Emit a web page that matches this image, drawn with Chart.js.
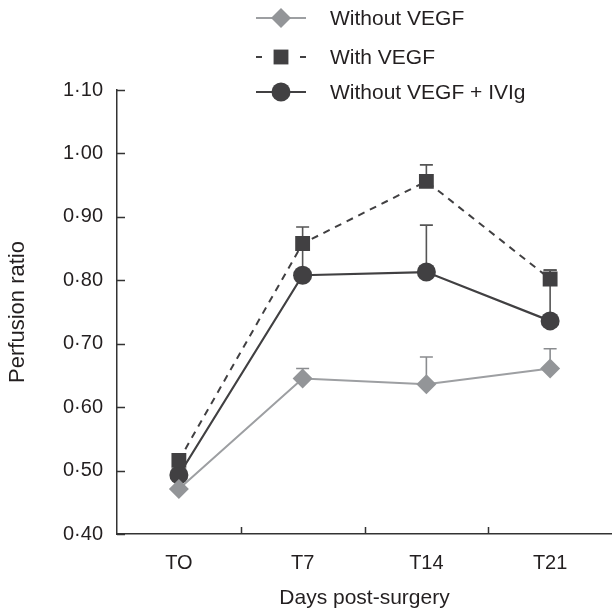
<!DOCTYPE html>
<html>
<head>
<meta charset="utf-8">
<script src="https://cdn.jsdelivr.net/npm/chart.js@4"></script>
<style>
  html, body { margin: 0; padding: 0; background: #ffffff; }
  canvas { display: block; }
</style>
</head>
<body>
<canvas id="c" width="612" height="613"></canvas>
<script>
// ---- data ----
const categories = ['TO', 'T7', 'T14', 'T21'];
const seriesNames = ['Without VEGF', 'With VEGF', 'Without VEGF + IVIg'];
const withoutVEGF = [0.471, 0.645, 0.636, 0.661];
const withoutVEGFErr = [0, 0.016, 0.043, 0.031];
const withVEGF = [0.516, 0.858, 0.956, 0.802];
const withVEGFErr = [0, 0.026, 0.026, 0.014];
const withoutVEGFIVIg = [0.493, 0.808, 0.813, 0.736];
const withoutVEGFIVIgErr = [0, 0.055, 0.074, 0.08];
const yTickValues = [0.40, 0.50, 0.60, 0.70, 0.80, 0.90, 1.00, 1.10];
const yTickLabels = ['0·40', '0·50', '0·60', '0·70', '0·80', '0·90', '1·00', '1·10'];
const xTitle = 'Days post-surgery';
const yTitle = 'Perfusion ratio';

// ---- styles ----
const FONT = "'Liberation Sans', Arial, Helvetica, sans-serif";
const TEXT = '#231f20';
const AXIS = '#333333';
const DARK = '#414042';
const GRAY_FILL = '#939598';
const GRAY_LINE = '#9d9fa2';
const errorSets = [withoutVEGFErr, withVEGFErr, withoutVEGFIVIgErr];
const errorColors = ['#8a8c8f', '#555555', '#555555'];

// stretch the plot area so the x axis runs to the right edge, as in the original
const areaPlugin = {
  id: 'areaFix',
  afterLayout(chart) {
    const xs = chart.scales.x;
    const right = chart.width;
    xs.right = right;
    xs.width = right - xs.left;
    chart.chartArea.right = right;
    chart.chartArea.width = right - chart.chartArea.left;
    xs.configure();
  }
};

const errorBarPlugin = {
  id: 'errorBars',
  beforeDatasetsDraw(chart) {
    const ctx = chart.ctx;
    const ys = chart.scales.y;
    ctx.save();
    chart.data.datasets.forEach((ds, di) => {
      const meta = chart.getDatasetMeta(di);
      const errs = errorSets[di];
      meta.data.forEach((pt, i) => {
        const e = errs[i];
        if (!e) return;
        const top = ys.getPixelForValue(ds.data[i] + e);
        ctx.strokeStyle = errorColors[di];
        ctx.lineWidth = 1.6;
        ctx.setLineDash([]);
        ctx.beginPath();
        ctx.moveTo(pt.x, pt.y);
        ctx.lineTo(pt.x, top);
        ctx.moveTo(pt.x - 6.5, top);
        ctx.lineTo(pt.x + 6.5, top);
        ctx.stroke();
      });
    });
    ctx.restore();
  }
};

const tickMarkPlugin = {
  id: 'inwardTicks',
  afterDraw(chart) {
    const ctx = chart.ctx;
    const xs = chart.scales.x, ys = chart.scales.y;
    const area = chart.chartArea;
    ctx.save();
    ctx.strokeStyle = AXIS;
    ctx.lineWidth = 1.5;
    ctx.beginPath();
    ys.ticks.forEach(t => {
      const py = Math.round(ys.getPixelForValue(t.value)) + 0.5;
      ctx.moveTo(area.left, py);
      ctx.lineTo(area.left + 8, py);
    });
    for (let i = 0; i < categories.length - 1; i++) {
      const px = Math.round((xs.getPixelForValue(i) + xs.getPixelForValue(i + 1)) / 2) + 0.5;
      ctx.moveTo(px, area.bottom);
      ctx.lineTo(px, area.bottom - 7);
    }
    ctx.stroke();
    ctx.restore();
  }
};

const legendPlugin = {
  id: 'customLegend',
  afterDraw(chart) {
    const ctx = chart.ctx;
    const rows = [18, 57, 92];
    const x0 = 256, x1 = 306, xm = 281, tx = 330;
    ctx.save();
    chart.data.datasets.forEach((ds, di) => {
      const y = rows[di];
      ctx.strokeStyle = ds.borderColor;
      ctx.lineWidth = 2;
      ctx.setLineDash([]);
      ctx.beginPath();
      if (ds.borderDash) {
        ctx.moveTo(x0, y); ctx.lineTo(x0 + 6, y);
        ctx.moveTo(x1 - 6, y); ctx.lineTo(x1, y);
      } else {
        ctx.moveTo(x0, y); ctx.lineTo(x1, y);
      }
      ctx.stroke();
      ctx.fillStyle = ds.pointBackgroundColor;
      ctx.beginPath();
      if (ds.pointStyle === 'rectRot') {
        const r = ds.pointRadius;
        ctx.moveTo(xm - r, y); ctx.lineTo(xm, y - r); ctx.lineTo(xm + r, y); ctx.lineTo(xm, y + r); ctx.closePath();
      } else if (ds.pointStyle === 'rect') {
        const s = ds.pointRadius * Math.SQRT1_2;
        ctx.rect(xm - s, y - s, 2 * s, 2 * s);
      } else {
        ctx.arc(xm, y, ds.pointRadius, 0, Math.PI * 2);
      }
      ctx.fill();
      ctx.fillStyle = TEXT;
      ctx.font = '21px ' + FONT;
      ctx.textBaseline = 'middle';
      ctx.textAlign = 'left';
      ctx.fillText(seriesNames[di], tx, y + 1);
    });
    ctx.restore();
  }
};

new Chart(document.getElementById('c'), {
  type: 'line',
  data: {
    labels: categories,
    datasets: [
      {
        label: seriesNames[0],
        data: withoutVEGF,
        borderColor: GRAY_LINE,
        borderWidth: 2,
        pointStyle: 'rectRot',
        pointRadius: 10,
        pointBackgroundColor: GRAY_FILL,
        pointBorderColor: GRAY_FILL,
        pointBorderWidth: 0,
        tension: 0,
        fill: false
      },
      {
        label: seriesNames[1],
        data: withVEGF,
        borderColor: DARK,
        borderWidth: 2,
        borderDash: [7, 6],
        pointStyle: 'rect',
        pointRadius: 10.5,
        pointBackgroundColor: DARK,
        pointBorderColor: DARK,
        pointBorderWidth: 0,
        tension: 0,
        fill: false
      },
      {
        label: seriesNames[2],
        data: withoutVEGFIVIg,
        borderColor: DARK,
        borderWidth: 2.2,
        pointStyle: 'circle',
        pointRadius: 9.5,
        pointBackgroundColor: DARK,
        pointBorderColor: DARK,
        pointBorderWidth: 0,
        tension: 0,
        fill: false
      }
    ]
  },
  options: {
    responsive: false,
    animation: false,
    devicePixelRatio: 1,
    layout: { padding: { top: 90, right: 0, bottom: 0, left: 0 } },
    plugins: {
      legend: { display: false },
      tooltip: { enabled: false }
    },
    scales: {
      x: {
        type: 'category',
        offset: true,
        grid: { display: true, drawOnChartArea: false, drawTicks: false, offset: true, color: 'rgba(0,0,0,0)' },
        border: { display: true, color: AXIS, width: 1.5 },
        ticks: { color: TEXT, font: { family: FONT, size: 20 }, padding: 17, maxRotation: 0 },
        title: { display: true, text: xTitle, color: TEXT, font: { family: FONT, size: 21 }, padding: { top: 0, bottom: 2 } },
        afterFit(scale) { scale.height = 79; scale.paddingLeft = 0; scale.paddingRight = 0; }
      },
      y: {
        type: 'linear',
        min: 0.4,
        max: 1.1,
        afterBuildTicks(scale) { scale.ticks = yTickValues.map(v => ({ value: v })); },
        grid: { display: true, drawOnChartArea: false, drawTicks: false, color: 'rgba(0,0,0,0)' },
        border: { display: true, color: AXIS, width: 1.5 },
        ticks: {
          color: TEXT,
          font: { family: FONT, size: 20 },
          padding: 14,
          callback: (v, i) => yTickLabels[i]
        },
        title: { display: true, text: yTitle, color: TEXT, font: { family: FONT, size: 22 }, padding: { top: 5, bottom: 0 } },
        afterFit(scale) { scale.width = 117; }
      }
    }
  },
  plugins: [areaPlugin, errorBarPlugin, tickMarkPlugin, legendPlugin]
});
</script>
</body>
</html>
